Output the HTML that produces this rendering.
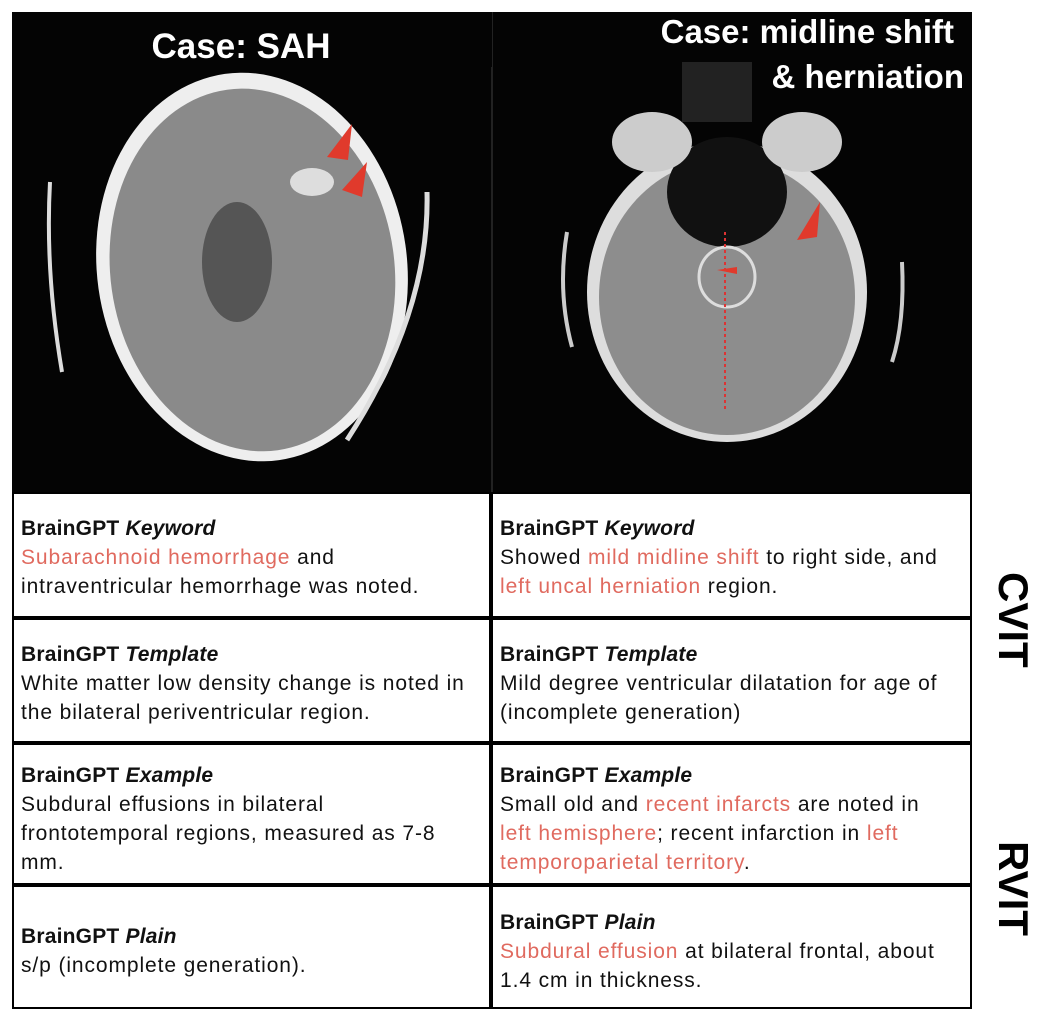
<!DOCTYPE html>
<html><head><meta charset="utf-8"><style>
body{margin:0;width:1062px;height:1028px;background:#fff;position:relative;overflow:hidden;font-family:"Liberation Sans",sans-serif;}
.img{position:absolute;left:12px;top:12px;width:960px;height:480px;background:#040404;}
.cell{position:absolute;box-sizing:border-box;border:2px solid #000;background:#fff;padding:20px 0 0 7px;font-size:21px;line-height:29px;color:#111;letter-spacing:0.9px;white-space:nowrap}
.cell b{font-weight:bold;letter-spacing:0.2px}
.r{color:#e06a5f}
.side{position:absolute;font-weight:bold;font-size:42px;transform:rotate(90deg);transform-origin:center;color:#000}
</style></head><body>
<div class="img">
<svg width="960" height="480" viewBox="0 0 960 480">
<rect x="479" y="0" width="2" height="480" fill="#222"/>
<ellipse cx="240" cy="255" rx="155" ry="195" fill="#eee" transform="rotate(-8 240 255)"/>
<ellipse cx="240" cy="258" rx="142" ry="182" fill="#8a8a8a" transform="rotate(-8 240 255)"/>
<ellipse cx="225" cy="250" rx="35" ry="60" fill="#555"/>
<ellipse cx="300" cy="170" rx="22" ry="14" fill="#ddd"/>
<path d="M38 170 Q33 260 50 360" stroke="#ddd" stroke-width="4" fill="none"/>
<path d="M415 180 Q418 300 335 428" stroke="#ddd" stroke-width="5" fill="none"/>
<polygon points="340,112 315,145 336,148" fill="#e03a2c"/>
<polygon points="355,150 330,178 350,185" fill="#e03a2c"/>
<ellipse cx="715" cy="280" rx="140" ry="150" fill="#ddd"/>
<ellipse cx="715" cy="285" rx="128" ry="138" fill="#8d8d8d"/>
<ellipse cx="715" cy="180" rx="60" ry="55" fill="#111"/>
<ellipse cx="640" cy="130" rx="40" ry="30" fill="#ccc"/>
<ellipse cx="790" cy="130" rx="40" ry="30" fill="#ccc"/>
<rect x="670" y="50" width="70" height="60" fill="#222"/>
<ellipse cx="715" cy="265" rx="28" ry="30" fill="none" stroke="#ddd" stroke-width="3"/>
<line x1="713" y1="220" x2="713" y2="400" stroke="#d33" stroke-width="2" stroke-dasharray="3,3"/>
<polygon points="705,258 725,255 725,262" fill="#e03a2c"/>
<polygon points="808,190 785,228 805,225" fill="#e03a2c"/>
<path d="M555 220 Q545 280 560 335" stroke="#ccc" stroke-width="4" fill="none"/>
<path d="M890 250 Q893 310 880 350" stroke="#ccc" stroke-width="4" fill="none"/>
<rect x="14" y="0" width="466" height="55" fill="#040404"/>
<rect x="740" y="55" width="215" height="35" fill="#040404"/>
<text x="229" y="46" fill="#fff" font-size="35" font-weight="bold" text-anchor="middle" font-family="Liberation Sans">Case: SAH</text>
<text x="942" y="31" fill="#fff" font-size="33" font-weight="bold" text-anchor="end" font-family="Liberation Sans">Case: midline shift</text>
<text x="952" y="76" fill="#fff" font-size="33" font-weight="bold" text-anchor="end" font-family="Liberation Sans">&amp; herniation</text>
</svg></div>

<div class="cell" style="left:12px;top:492px;width:479px;height:126px"><b>BrainGPT <i>Keyword</i></b><br><span class="r">Subarachnoid hemorrhage</span> and<br>intraventricular hemorrhage was noted.</div>
<div class="cell" style="left:491px;top:492px;width:481px;height:126px"><b>BrainGPT <i>Keyword</i></b><br>Showed <span class="r">mild midline shift</span> to right side, and<br><span class="r">left uncal herniation</span> region.</div>
<div class="cell" style="left:12px;top:618px;width:479px;height:125px"><b>BrainGPT <i>Template</i></b><br>White matter low density change is noted in<br>the bilateral periventricular region.</div>
<div class="cell" style="left:491px;top:618px;width:481px;height:125px"><b>BrainGPT <i>Template</i></b><br>Mild degree ventricular dilatation for age of<br>(incomplete generation)</div>
<div class="cell" style="left:12px;top:743px;width:479px;height:142px;padding-top:16px"><b>BrainGPT <i>Example</i></b><br>Subdural effusions in bilateral<br>frontotemporal regions, measured as 7-8<br>mm.</div>
<div class="cell" style="left:491px;top:743px;width:481px;height:142px;padding-top:16px"><b>BrainGPT <i>Example</i></b><br>Small old and <span class="r">recent infarcts</span> are noted in<br><span class="r">left hemisphere</span>; recent infarction in <span class="r">left</span><br><span class="r">temporoparietal territory</span>.</div>
<div class="cell" style="left:12px;top:885px;width:479px;height:124px;padding-top:35px"><b>BrainGPT <i>Plain</i></b><br>s/p (incomplete generation).</div>
<div class="cell" style="left:491px;top:885px;width:481px;height:124px;padding-top:21px"><b>BrainGPT <i>Plain</i></b><br><span class="r">Subdural effusion</span> at bilateral frontal, about<br>1.4 cm in thickness.</div>

<div class="side" style="left:968px;top:593px;width:90px;height:48px;text-align:center;line-height:48px">CVIT</div>
<div class="side" style="left:968px;top:862px;width:90px;height:48px;text-align:center;line-height:48px">RVIT</div>
</body></html>
